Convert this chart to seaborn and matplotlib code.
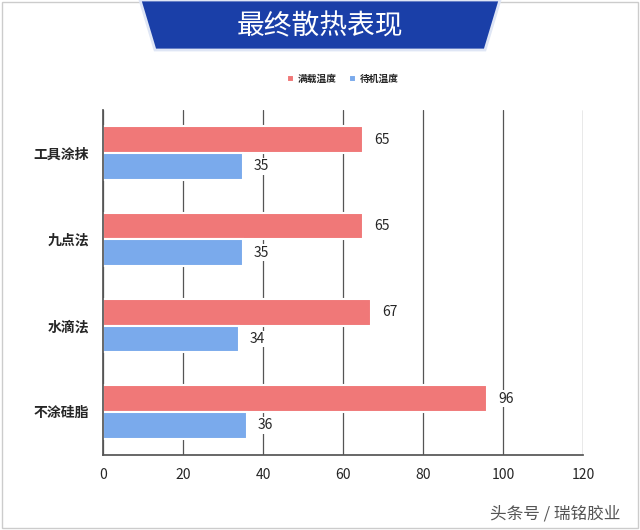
import matplotlib
matplotlib.use("Agg")
import matplotlib.pyplot as plt
import seaborn as sns
import pandas as pd
from matplotlib.patches import Polygon, Rectangle

categories = ["工具涂抹", "九点法", "水滴法", "不涂硅脂"]
series = ["满载温度", "待机温度"]
full_load = [65, 65, 67, 96]
idle = [35, 35, 34, 36]
xticks = [0, 20, 40, 60, 80, 100, 120]

sns.set_theme(style="white")
plt.rcParams['font.family'] = ['Noto Sans CJK SC', 'DejaVu Sans']

df = pd.DataFrame({
    "cat": categories * 2,
    "series": [series[0]] * 4 + [series[1]] * 4,
    "val": full_load + idle,
})

fig = plt.figure(figsize=(6.4, 5.3), dpi=100)
fig.patch.set_facecolor("white")
fig.add_artist(Rectangle((0.003, 0.003), 0.994, 0.994, transform=fig.transFigure,
                         fill=False, edgecolor="#cccccc", lw=1))
fig.add_artist(Polygon([[140/640, 1], [500/640, 1], [485/640, 1-50/530], [155/640, 1-50/530]],
                       closed=True, transform=fig.transFigure, facecolor="#1a3fa8", edgecolor="#dfe6f5", lw=2))
fig.text(0.5, 1-26/530, "最终散热表现", ha="center", va="center", color="white", fontsize=20)

ax = fig.add_axes([103/640, 1-455/530, 480/640, 345/530])
sns.barplot(data=df, y="cat", x="val", hue="series", order=categories, hue_order=series,
            palette=["#F07878", "#7AAAEC"], saturation=1, orient="h", width=0.62, ax=ax,
            edgecolor="white", linewidth=1.5, legend=True)
ax.set_xlim(0, 120)
ax.set_xticks(xticks)
ax.set_xticklabels([str(t) for t in xticks], fontsize=10)
ax.set_xlabel("")
ax.set_ylabel("")
ax.tick_params(axis="y", labelsize=10, length=0, pad=10)
for lab in ax.get_yticklabels():
    lab.set_fontweight("bold")
ax.grid(axis="x", color="#555555", lw=0.9)
ax.set_axisbelow(True)
for s in ["top", "right"]:
    ax.spines[s].set_visible(False)
ax.spines["left"].set_color("#555555")
ax.spines["bottom"].set_color("#555555")
for c in ax.containers:
    ax.bar_label(c, padding=8, fontsize=10,
                 bbox=dict(facecolor="white", edgecolor="none", pad=1))
leg = ax.legend(loc="upper center", bbox_to_anchor=(0.5, 1.13), ncol=2, frameon=False,
                prop={"size": 7, "weight": "bold"}, handlelength=0.7, handleheight=0.7,
                columnspacing=1.2, handletextpad=0.4)
fig.text(0.97, 0.03, "头条号 / 瑞铭胶业", ha="right", va="center", fontsize=12, color="#555555")
fig.savefig("out.png", dpi=100)
